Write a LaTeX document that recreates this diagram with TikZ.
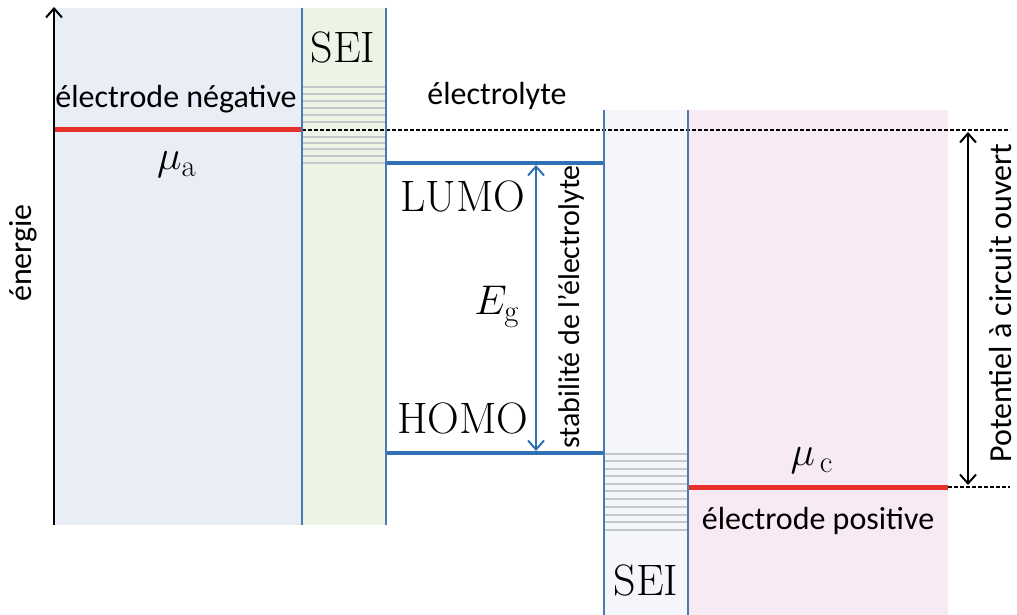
\documentclass[tikz,border=0pt]{standalone}
\usepackage{fontspec}
\setsansfont{Carlito}
\usetikzlibrary{arrows.meta}
\definecolor{panelL}{HTML}{E9EEF6}
\definecolor{seiG}{HTML}{EEF4E5}
\definecolor{seiB}{HTML}{F4F6FB}
\definecolor{panelR}{HTML}{F7EAF3}
\definecolor{vblue}{HTML}{4A7AB5}
\definecolor{lblue}{HTML}{2E72B5}
\definecolor{ered}{HTML}{E5302C}
\definecolor{sgrey}{HTML}{C4C7CC}
\tikzset{
  vline/.style={draw=vblue,line width=2.8pt},
  level/.style={draw=lblue,line width=4.5pt},
  redlevel/.style={draw=ered,line width=5pt},
  greyline/.style={draw=sgrey,line width=1.3pt},
  dashline/.style={draw=black,dashed,dash pattern=on 4pt off 2pt,line width=1.3pt},
  sanslbl/.style={font=\sffamily\fontsize{32}{38}\selectfont,inner sep=0pt},
  smallsans/.style={font=\sffamily\fontsize{30}{36}\selectfont,inner sep=0pt},
  seriflbl/.style={font=\fontsize{44}{50}\selectfont,inner sep=0pt},
  mathlbl/.style={font=\fontsize{22}{26}\selectfont,inner sep=0pt,scale=2},
  dbl/.style={line width=2pt,{Straight Barb[length=9pt,width=16pt]}-{Straight Barb[length=9pt,width=16pt]}},
}
\begin{document}
\begin{tikzpicture}[x=1pt,y=-1pt]
\useasboundingbox (0,0) rectangle (1017,615);
% panels
\fill[panelL] (54,8) rectangle (302,525);
\fill[seiG] (302,8) rectangle (386,525);
\fill[seiB] (604,110) rectangle (688,615);
\fill[panelR] (688,110) rectangle (948,615);
% grey SEI lines
\foreach \y in {87,94,101,108,115,122,137,143,149,156,163}
  \draw[greyline] (303,\y) -- (385,\y);
\foreach \y in {454,461,469,476,484,491,499,507,515,522,530}
  \draw[greyline] (605,\y) -- (687,\y);
% red levels
\coordinate (ma) at (54,130);
\coordinate (mar) at (302,130);
\draw[redlevel] (ma) -- (mar);
\coordinate (mc) at (688,487);
\coordinate (mcr) at (948,487);
\draw[redlevel] (mc) -- (mcr);
% dashed lines
\coordinate (dTe) at (1010,130);
\coordinate (dBe) at (1010,487);
\draw[dashline] (mar) -- (dTe);
\draw[dashline] (mcr) -- (dBe);
% LUMO HOMO levels
\coordinate (lumoL) at (386,163);
\coordinate (lumoR) at (604,163);
\coordinate (homoL) at (386,453);
\coordinate (homoR) at (604,453);
\draw[level] (lumoL) -- (lumoR);
\draw[level] (homoL) -- (homoR);
% vertical blue lines
\coordinate (v1t) at (302,8); \coordinate (v1b) at (302,525);
\coordinate (v2t) at (386,8); \coordinate (v2b) at (386,525);
\coordinate (v3t) at (604,110); \coordinate (v3b) at (604,615);
\coordinate (v4t) at (688,110); \coordinate (v4b) at (688,615);
\draw[vline] (v1t) -- (v1b);
\draw[vline] (v2t) -- (v2b);
\draw[vline] (v3t) -- (v3b);
\draw[vline] (v4t) -- (v4b);
% energy axis
\coordinate (axb) at (54,525);
\coordinate (axt) at (54,7);
\draw[line width=2pt,-{Straight Barb[length=9pt,width=16pt]}] (axb) -- (axt);
% double arrows
\coordinate (egT) at (536,165);
\coordinate (egB) at (536,451);
\draw[dbl,draw=lblue] (egT) -- (egB);
\coordinate (ocT) at (968,132);
\coordinate (ocB) at (968,485);
\draw[dbl,draw=black] (ocT) -- (ocB);
% labels
\node[sanslbl,rotate=90] (energ) at (23,253) {énergie};
\node[sanslbl] (eneg) at (176,99) {électrode négative};
\node[sanslbl] (elyte) at (497,96) {électrolyte};
\node[seriflbl] (sei1) at (343,47) {SEI};
\node[mathlbl] (mua) at (177,165) {$\mu_{\mathrm{a}}$};
\node[seriflbl] (lumo) at (463,196) {LUMO};
\node[seriflbl] (homo) at (463,418) {HOMO};
\node[mathlbl] (eg) at (497,307) {$E_{\mathrm{g}}$};
\node[smallsans,rotate=90] (stab) at (571,307) {stabilité de l'électrolyte};
\node[seriflbl] (sei2) at (646,580) {SEI};
\node[mathlbl] (muc) at (812,461) {$\mu_{\,\mathrm{c}}$};
\node[sanslbl] (epos) at (818,521) {électrode positive};
\node[sanslbl,rotate=90] (pot) at (1000,303) {Potentiel à circuit ouvert};
\end{tikzpicture}
\end{document}
